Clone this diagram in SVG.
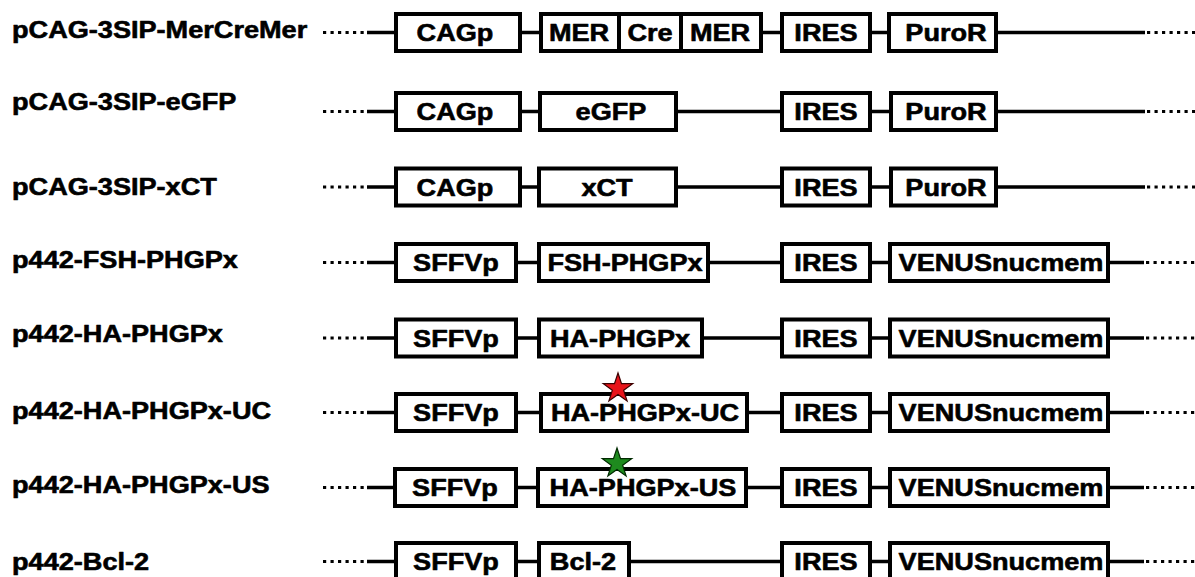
<svg xmlns="http://www.w3.org/2000/svg" width="1195" height="577" viewBox="0 0 1195 577">
<style>
.bx{fill:#fff;stroke:#000;stroke-width:4}
.dv{stroke:#000;stroke-width:4}
.ln{stroke:#000;stroke-width:3.5;fill:none}
.dt{stroke:#000;stroke-width:3.2;stroke-dasharray:3.2 4.3;fill:none}
.t{font-family:"Liberation Sans",Arial,Helvetica,sans-serif;font-weight:bold;font-size:24px;fill:#000;stroke:#000;stroke-width:0.6;stroke-linejoin:round}
.m{text-anchor:middle}
.red{fill:#e8141a;stroke:#3a0000;stroke-width:1.2}
.grn{fill:#1e8a1e;stroke:#002a00;stroke-width:1.2}
</style>
<defs>
<polygon id="star" points="0,-15.5 3.52,-4.84 14.74,-4.79 5.7,1.85 9.11,12.54 0,6 -9.11,12.54 -5.7,1.85 -14.74,-4.79 -3.52,-4.84"/>
</defs>
<rect width="1195" height="577" fill="#fff"/>

<g id="labels">
<text class="t" transform="translate(12,38) scale(1.13,1)">pCAG-3SIP-MerCreMer</text>
<text class="t" transform="translate(12,110) scale(1.13,1)">pCAG-3SIP-eGFP</text>
<text class="t" transform="translate(12,195) scale(1.13,1)">pCAG-3SIP-xCT</text>
<text class="t" transform="translate(12,268) scale(1.13,1)">p442-FSH-PHGPx</text>
<text class="t" transform="translate(12,342) scale(1.13,1)">p442-HA-PHGPx</text>
<text class="t" transform="translate(12,419) scale(1.13,1)">p442-HA-PHGPx-UC</text>
<text class="t" transform="translate(12,493) scale(1.13,1)">p442-HA-PHGPx-US</text>
<text class="t" transform="translate(12,570) scale(1.13,1)">p442-Bcl-2</text>
</g>

<g id="connectors">
<path class="dt" d="M323,32.5H368M323,111.5H368M323,187H368M323,262.5H368M323,338H368M323,412.5H368M323,487.5H368M323,561.5H368"/>
<path class="ln" d="M367,32.5H1145M367,111.5H1145M367,187H1145M367,262.5H1144M367,338H1144M367,412.5H1144M367,487.5H1144M367,561.5H1144"/>
<path class="dt" d="M1147,32.5H1195M1147,111.5H1195M1147,187H1195M1146,262.5H1195M1146,338H1195M1146,412.5H1195M1146,487.5H1195M1146,561.5H1195"/>
</g>

<!-- Row 1 -->
<g id="r1-cagp"><rect class="bx" x="396" y="14" width="124" height="37"/><text class="t m" transform="translate(455,41) scale(1.13,1)">CAGp</text></g>
<g id="r1-mercremer"><rect class="bx" x="541" y="14" width="220" height="37"/><line class="dv" x1="619" y1="14" x2="619" y2="51"/><line class="dv" x1="681" y1="14" x2="681" y2="51"/>
<text class="t m" transform="translate(579,41) scale(1.13,1)">MER</text><text class="t m" transform="translate(650,41) scale(1.13,1)">Cre</text><text class="t m" transform="translate(720,41) scale(1.13,1)">MER</text></g>
<g id="r1-ires"><rect class="bx" x="782" y="14" width="88" height="37"/><text class="t m" transform="translate(826,41) scale(1.13,1)">IRES</text></g>
<g id="r1-puror"><rect class="bx" x="889" y="14" width="107" height="37"/><text class="t m" transform="translate(946,41) scale(1.13,1)">PuroR</text></g>

<!-- Row 2 -->
<g id="r2-cagp"><rect class="bx" x="396" y="93" width="124" height="37"/><text class="t m" transform="translate(455,120) scale(1.13,1)">CAGp</text></g>
<g id="r2-egfp"><rect class="bx" x="540" y="93" width="136" height="37"/><text class="t m" transform="translate(611,120) scale(1.13,1)">eGFP</text></g>
<g id="r2-ires"><rect class="bx" x="782" y="93" width="88" height="37"/><text class="t m" transform="translate(826,120) scale(1.13,1)">IRES</text></g>
<g id="r2-puror"><rect class="bx" x="891" y="93" width="105" height="37"/><text class="t m" transform="translate(946,120) scale(1.13,1)">PuroR</text></g>

<!-- Row 3 -->
<g id="r3-cagp"><rect class="bx" x="396" y="168.5" width="124" height="37"/><text class="t m" transform="translate(455,195.5) scale(1.13,1)">CAGp</text></g>
<g id="r3-xct"><rect class="bx" x="539" y="168.5" width="137" height="37"/><text class="t m" transform="translate(607,195.5) scale(1.13,1)">xCT</text></g>
<g id="r3-ires"><rect class="bx" x="782" y="168.5" width="88" height="37"/><text class="t m" transform="translate(826,195.5) scale(1.13,1)">IRES</text></g>
<g id="r3-puror"><rect class="bx" x="891" y="168.5" width="105" height="37"/><text class="t m" transform="translate(946,195.5) scale(1.13,1)">PuroR</text></g>

<!-- Row 4 -->
<g id="r4-sffvp"><rect class="bx" x="396" y="244" width="120" height="37"/><text class="t m" transform="translate(456,271) scale(1.13,1)">SFFVp</text></g>
<g id="r4-fsh"><rect class="bx" x="539" y="244" width="169" height="37"/><text class="t m" transform="translate(625,271) scale(1.13,1)">FSH-PHGPx</text></g>
<g id="r4-ires"><rect class="bx" x="782" y="244" width="88" height="37"/><text class="t m" transform="translate(826,271) scale(1.13,1)">IRES</text></g>
<g id="r4-venus"><rect class="bx" x="890" y="244" width="218" height="37"/><text class="t m" transform="translate(1001,271) scale(1.13,1)">VENUSnucmem</text></g>

<!-- Row 5 -->
<g id="r5-sffvp"><rect class="bx" x="396" y="319.5" width="120" height="37"/><text class="t m" transform="translate(456,346.5) scale(1.13,1)">SFFVp</text></g>
<g id="r5-ha"><rect class="bx" x="539" y="319.5" width="163" height="37"/><text class="t m" transform="translate(620,346.5) scale(1.13,1)">HA-PHGPx</text></g>
<g id="r5-ires"><rect class="bx" x="782" y="319.5" width="88" height="37"/><text class="t m" transform="translate(826,346.5) scale(1.13,1)">IRES</text></g>
<g id="r5-venus"><rect class="bx" x="890" y="319.5" width="218" height="37"/><text class="t m" transform="translate(1001,346.5) scale(1.13,1)">VENUSnucmem</text></g>

<!-- Row 6 -->
<g id="r6-sffvp"><rect class="bx" x="396" y="394" width="120" height="37"/><text class="t m" transform="translate(456,421) scale(1.13,1)">SFFVp</text></g>
<g id="r6-uc"><rect class="bx" x="541" y="394" width="206" height="37"/><text class="t m" transform="translate(645,421) scale(1.13,1)">HA-PHGPx-UC</text><use href="#star" class="red" x="618" y="388.5"/></g>
<g id="r6-ires"><rect class="bx" x="782" y="394" width="88" height="37"/><text class="t m" transform="translate(826,421) scale(1.13,1)">IRES</text></g>
<g id="r6-venus"><rect class="bx" x="890" y="394" width="218" height="37"/><text class="t m" transform="translate(1001,421) scale(1.13,1)">VENUSnucmem</text></g>

<!-- Row 7 -->
<g id="r7-sffvp"><rect class="bx" x="395" y="469" width="121" height="37"/><text class="t m" transform="translate(455,496) scale(1.13,1)">SFFVp</text></g>
<g id="r7-us"><rect class="bx" x="538" y="469" width="208" height="37"/><text class="t m" transform="translate(643,496) scale(1.13,1)">HA-PHGPx-US</text><use href="#star" class="grn" x="617" y="463.5"/></g>
<g id="r7-ires"><rect class="bx" x="782" y="469" width="88" height="37"/><text class="t m" transform="translate(826,496) scale(1.13,1)">IRES</text></g>
<g id="r7-venus"><rect class="bx" x="890" y="469" width="218" height="37"/><text class="t m" transform="translate(1001,496) scale(1.13,1)">VENUSnucmem</text></g>

<!-- Row 8 -->
<g id="r8-sffvp"><rect class="bx" x="396" y="543" width="120" height="37"/><text class="t m" transform="translate(456,570) scale(1.13,1)">SFFVp</text></g>
<g id="r8-bcl2"><rect class="bx" x="539" y="543" width="90" height="37"/><text class="t m" transform="translate(583,570) scale(1.13,1)">Bcl-2</text></g>
<g id="r8-ires"><rect class="bx" x="782" y="543" width="88" height="37"/><text class="t m" transform="translate(826,570) scale(1.13,1)">IRES</text></g>
<g id="r8-venus"><rect class="bx" x="890" y="543" width="218" height="37"/><text class="t m" transform="translate(1001,570) scale(1.13,1)">VENUSnucmem</text></g>
</svg>
